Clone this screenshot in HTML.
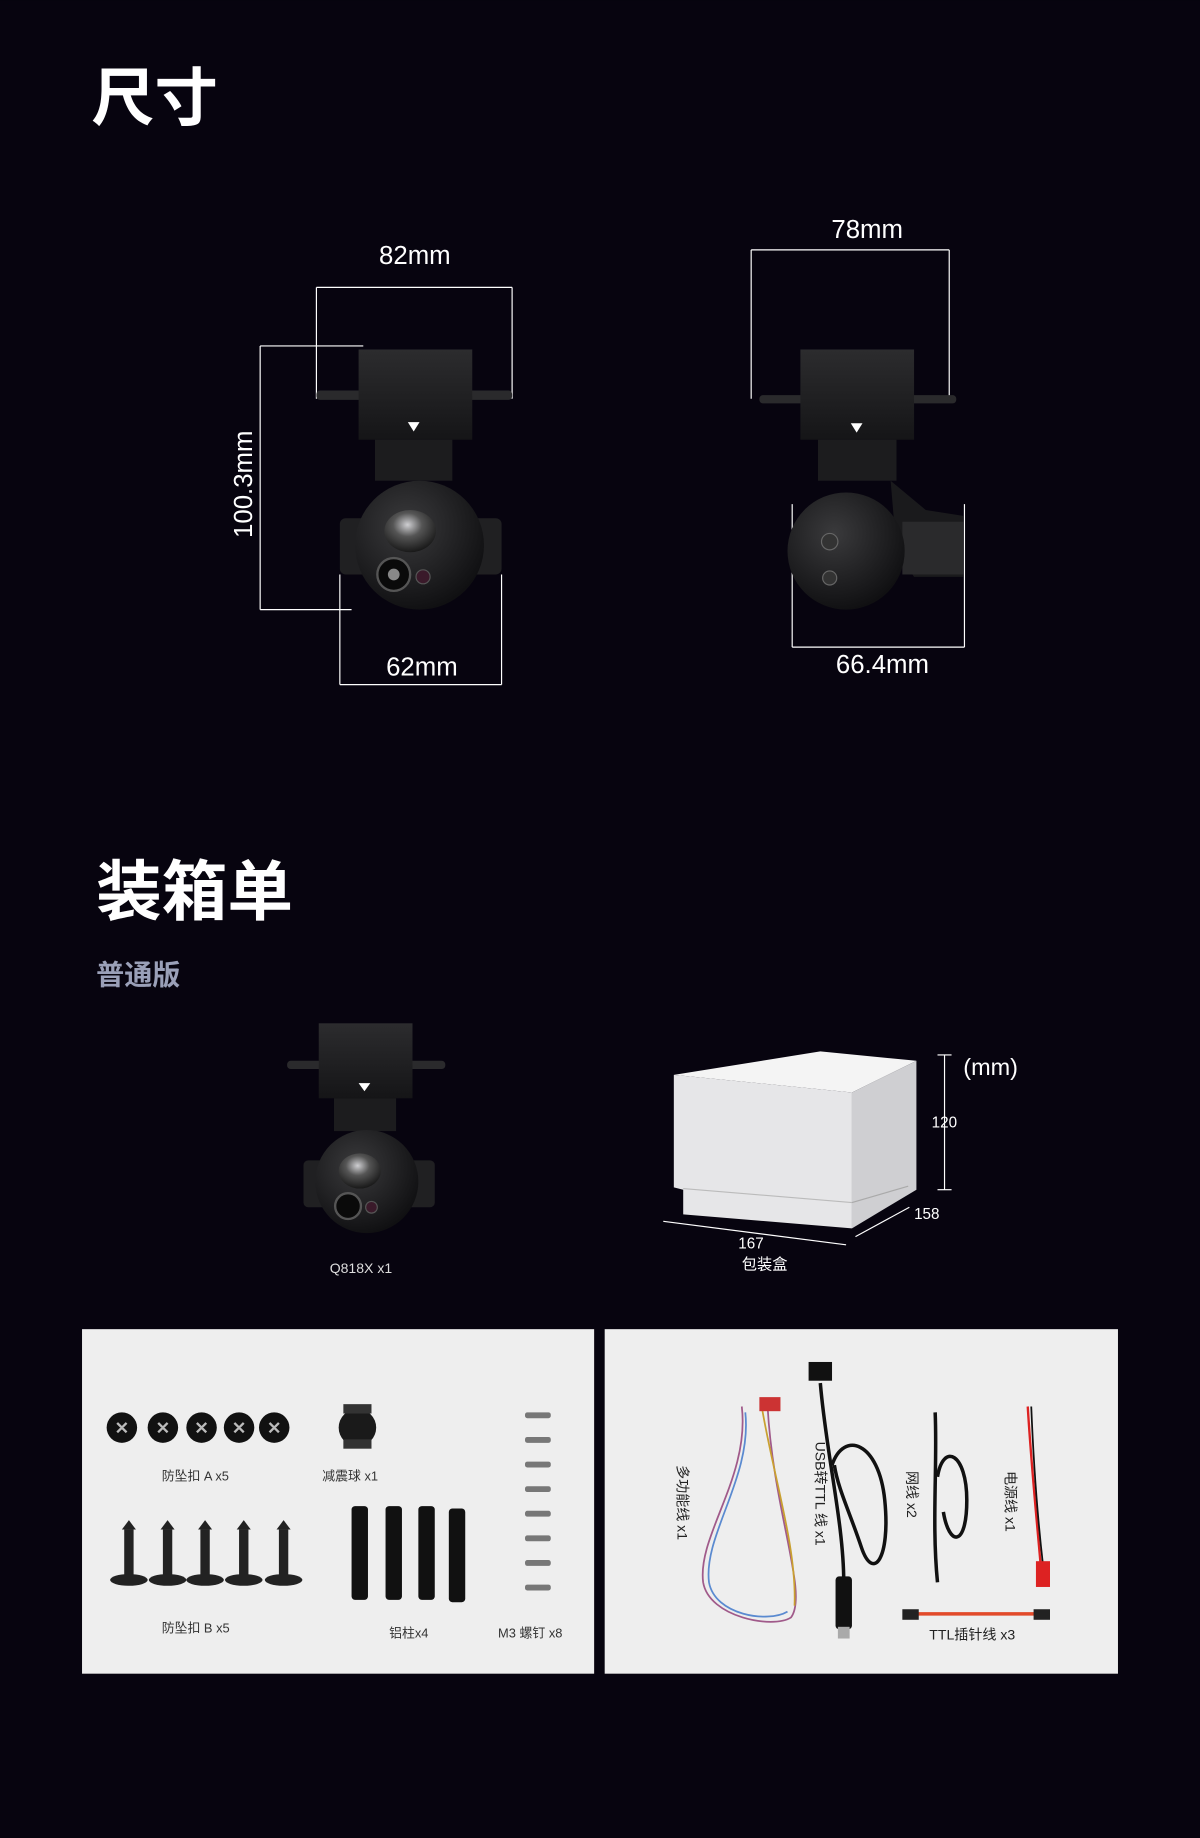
<!DOCTYPE html>
<html><head><meta charset="utf-8"><style>
html,body{margin:0;padding:0;background:#07040f;}
svg{display:block;}
text{font-family:"Liberation Sans","Noto Sans CJK SC",sans-serif;}
</style></head><body>
<svg width="1200" height="1838" viewBox="0 0 1024 1568" xmlns="http://www.w3.org/2000/svg">
<rect width="1024" height="1568" fill="#07040f"/>
<defs>
<radialGradient id="ball" cx="0.4" cy="0.35" r="0.7"><stop offset="0" stop-color="#3a3a3c"/><stop offset="1" stop-color="#0e0e10"/></radialGradient>
<radialGradient id="lens" cx="0.45" cy="0.35" r="0.7"><stop offset="0" stop-color="#cfcfd2"/><stop offset="0.4" stop-color="#555"/><stop offset="1" stop-color="#111"/></radialGradient>
<linearGradient id="boxg" x1="0" y1="0" x2="0" y2="1"><stop offset="0" stop-color="#2c2c2e"/><stop offset="1" stop-color="#151517"/></linearGradient>
</defs>
<text x="78" y="102" font-size="54" font-weight="bold" fill="#fff">尺寸</text>
<text x="82" y="780" font-size="56" font-weight="bold" fill="#fff">装箱单</text>
<text x="82" y="840" font-size="24" font-weight="bold" fill="#9aa0b8">普通版</text>

<!-- camera 1 -->
<g stroke="#fff" stroke-width="1" fill="none">
<line x1="270" y1="245" x2="437" y2="245"/><line x1="270" y1="245" x2="270" y2="340"/><line x1="437" y1="245" x2="437" y2="340"/>
<line x1="222" y1="295" x2="222" y2="520"/><line x1="222" y1="295" x2="310" y2="295"/><line x1="222" y1="520" x2="300" y2="520"/>
<line x1="290" y1="584" x2="428" y2="584"/><line x1="290" y1="490" x2="290" y2="584"/><line x1="428" y1="490" x2="428" y2="584"/>
</g>
<text x="354" y="225" font-size="22" fill="#fff" text-anchor="middle">82mm</text>
<text x="360" y="576" font-size="22" fill="#fff" text-anchor="middle">62mm</text>
<text transform="translate(215,413) rotate(-90)" font-size="22" fill="#fff" text-anchor="middle">100.3mm</text>
<g>
<rect x="270" y="333" width="167" height="8" rx="3" fill="#2a2a2c"/>
<rect x="306" y="298" width="97" height="77" fill="url(#boxg)"/>
<polygon points="348,360 358,360 353,368" fill="#fff"/>
<rect x="320" y="375" width="66" height="35" fill="#1c1c1e"/>
<rect x="290" y="442" width="30" height="48" rx="5" fill="#202022"/>
<rect x="398" y="442" width="30" height="48" rx="5" fill="#202022"/>
<circle cx="358" cy="465" r="55" fill="url(#ball)"/>
<ellipse cx="350" cy="453" rx="22" ry="18" fill="url(#lens)"/>
<circle cx="336" cy="490" r="14" fill="#0a0a0a" stroke="#555" stroke-width="2"/>
<circle cx="336" cy="490" r="5" fill="#888"/>
<circle cx="361" cy="492" r="6" fill="#3a1a2a" stroke="#555"/>
</g>

<!-- camera 2 -->
<g stroke="#fff" stroke-width="1" fill="none">
<line x1="641" y1="213" x2="810" y2="213"/><line x1="641" y1="213" x2="641" y2="340"/><line x1="810" y1="213" x2="810" y2="340"/>
<line x1="676" y1="552" x2="823" y2="552"/><line x1="676" y1="430" x2="676" y2="552"/><line x1="823" y1="430" x2="823" y2="552"/>
</g>
<text x="740" y="203" font-size="22" fill="#fff" text-anchor="middle">78mm</text>
<text x="753" y="574" font-size="22" fill="#fff" text-anchor="middle">66.4mm</text>
<g>
<rect x="648" y="337" width="168" height="7" rx="3" fill="#2a2a2c"/>
<rect x="683" y="298" width="97" height="77" fill="url(#boxg)"/>
<polygon points="726,361 736,361 731,369" fill="#fff"/>
<rect x="698" y="375" width="67" height="35" fill="#1c1c1e"/>
<polygon points="760,410 790,435 822,440 822,492 780,492 765,470" fill="#1a1a1c"/>
<rect x="770" y="445" width="52" height="45" fill="#2a2a2c"/>
<circle cx="722" cy="470" r="50" fill="url(#ball)"/>
<circle cx="708" cy="462" r="7" fill="#333" stroke="#666"/>
<circle cx="708" cy="493" r="6" fill="#333" stroke="#666"/>
</g>

<!-- camera 3 -->
<g>
<rect x="245" y="905" width="135" height="7" rx="3" fill="#2a2a2c"/>
<rect x="272" y="873" width="80" height="64" fill="url(#boxg)"/>
<polygon points="306,924 316,924 311,931" fill="#fff"/>
<rect x="285" y="937" width="53" height="28" fill="#1c1c1e"/>
<rect x="259" y="990" width="24" height="40" rx="4" fill="#202022"/>
<rect x="347" y="990" width="24" height="40" rx="4" fill="#202022"/>
<circle cx="313" cy="1008" r="44" fill="url(#ball)"/>
<ellipse cx="307" cy="999" rx="18" ry="15" fill="url(#lens)"/>
<circle cx="297" cy="1029" r="11" fill="#0a0a0a" stroke="#555" stroke-width="2"/>
<circle cx="317" cy="1030" r="5" fill="#3a1a2a" stroke="#555"/>
</g>
<text x="308" y="1086" font-size="12" fill="#ddd" text-anchor="middle">Q818X  x1</text>

<!-- package box -->
<polygon points="575,917 700,897 782,905 727,932" fill="#f4f4f4"/>
<polygon points="575,917 727,932 727,1048 583,1036 583,1015 575,1013" fill="#e6e6e8"/>
<polygon points="727,932 782,905 782,1015 727,1048" fill="#cfcfd2"/>
<line x1="583" y1="1014" x2="727" y2="1026" stroke="#bbb"/>
<line x1="727" y1="1026" x2="775" y2="1012" stroke="#aaa"/>
<g stroke="#fff" stroke-width="1">
<line x1="806" y1="900" x2="806" y2="1015"/><line x1="800" y1="900" x2="812" y2="900"/><line x1="800" y1="1015" x2="812" y2="1015"/>
<line x1="566" y1="1042" x2="722" y2="1062"/><line x1="730" y1="1055" x2="776" y2="1030"/>
</g>
<text x="822" y="917" font-size="20" fill="#fff">(mm)</text>
<text x="795" y="962" font-size="13" fill="#fff">120</text>
<text x="780" y="1040" font-size="13" fill="#fff">158</text>
<text x="630" y="1065" font-size="13" fill="#fff">167</text>
<text x="633" y="1083" font-size="13" fill="#fff">包装盒</text>

<!-- left panel -->
<rect x="70" y="1134" width="437" height="294" fill="#eeeeee"/>
<g>
<circle cx="104" cy="1218" r="13" fill="#111"/><circle cx="139" cy="1218" r="13" fill="#111"/><circle cx="172" cy="1218" r="13" fill="#111"/><circle cx="204" cy="1218" r="13" fill="#111"/><circle cx="234" cy="1218" r="13" fill="#111"/>
<g stroke="#bbb" stroke-width="2"><path d="M100,1214 l8,8 M108,1214 l-8,8 M135,1214 l8,8 M143,1214 l-8,8 M168,1214 l8,8 M176,1214 l-8,8 M200,1214 l8,8 M208,1214 l-8,8 M230,1214 l8,8 M238,1214 l-8,8"/></g>
</g>
<text x="138" y="1263" font-size="11" fill="#333">防坠扣 A  x5</text>
<circle cx="305" cy="1218" r="16" fill="#1a1a1a"/><rect x="293" y="1198" width="24" height="8" fill="#333"/><rect x="293" y="1228" width="24" height="8" fill="#333"/>
<text x="275" y="1263" font-size="11" fill="#333">减震球  x1</text>
<g fill="#777">
<rect x="448" y="1205" width="22" height="5" rx="2"/><rect x="448" y="1226" width="22" height="5" rx="2"/><rect x="448" y="1247" width="22" height="5" rx="2"/><rect x="448" y="1268" width="22" height="5" rx="2"/><rect x="448" y="1289" width="22" height="5" rx="2"/><rect x="448" y="1310" width="22" height="5" rx="2"/><rect x="448" y="1331" width="22" height="5" rx="2"/><rect x="448" y="1352" width="22" height="5" rx="2"/>
</g>
<text x="425" y="1397" font-size="11" fill="#333">M3 螺钉  x8</text>
<g fill="#222">
<rect x="106" y="1305" width="8" height="42"/><ellipse cx="110" cy="1348" rx="16" ry="5"/><polygon points="104,1305 110,1297 116,1305"/>
<rect x="139" y="1305" width="8" height="42"/><ellipse cx="143" cy="1348" rx="16" ry="5"/><polygon points="137,1305 143,1297 149,1305"/>
<rect x="171" y="1305" width="8" height="42"/><ellipse cx="175" cy="1348" rx="16" ry="5"/><polygon points="169,1305 175,1297 181,1305"/>
<rect x="204" y="1305" width="8" height="42"/><ellipse cx="208" cy="1348" rx="16" ry="5"/><polygon points="202,1305 208,1297 214,1305"/>
<rect x="238" y="1305" width="8" height="42"/><ellipse cx="242" cy="1348" rx="16" ry="5"/><polygon points="236,1305 242,1297 248,1305"/>
</g>
<text x="138" y="1393" font-size="11" fill="#333">防坠扣 B  x5</text>
<g fill="#111">
<rect x="300" y="1285" width="14" height="80" rx="3"/><rect x="329" y="1285" width="14" height="80" rx="3"/><rect x="357" y="1285" width="14" height="80" rx="3"/><rect x="383" y="1287" width="14" height="80" rx="3"/>
</g>
<text x="332" y="1397" font-size="11" fill="#333">铝柱x4</text>

<!-- right panel -->
<rect x="516" y="1134" width="438" height="294" fill="#eeeeee"/>
<g fill="none" stroke-width="1.5">
<path d="M633,1200 C640,1260 595,1310 600,1350 C605,1380 660,1390 675,1380 C690,1360 660,1290 655,1200" stroke="#a05a8a"/>
<path d="M636,1205 C642,1260 600,1310 605,1350 C610,1378 655,1385 672,1375" stroke="#5a8ad0"/>
<path d="M650,1200 C660,1260 680,1320 678,1370" stroke="#c9a030"/>
<path d="M700,1180 C705,1240 720,1300 720,1350" stroke="#111" stroke-width="3"/>
<path d="M710,1250 C720,1220 750,1230 755,1280 C760,1330 745,1350 735,1320 C725,1290 715,1270 712,1250" stroke="#111" stroke-width="3"/>
<path d="M798,1205 C800,1250 795,1300 800,1350" stroke="#111" stroke-width="3"/>
<path d="M800,1260 C805,1230 825,1240 825,1280 C825,1320 810,1320 805,1290" stroke="#111" stroke-width="3"/>
<path d="M877,1200 C880,1250 885,1300 888,1335" stroke="#d22" stroke-width="2"/>
<path d="M880,1200 C882,1250 886,1300 890,1335" stroke="#111" stroke-width="1.5"/>
<path d="M775,1377 L890,1377" stroke="#e24a2a" stroke-width="3"/>
</g>
<rect x="690" y="1162" width="20" height="16" fill="#111"/>
<rect x="713" y="1345" width="14" height="45" rx="3" fill="#111"/><rect x="715" y="1388" width="10" height="10" fill="#aaa"/>
<rect x="884" y="1332" width="12" height="22" fill="#d22"/>
<rect x="648" y="1192" width="18" height="12" fill="#c33"/>
<rect x="770" y="1373" width="14" height="9" fill="#222"/><rect x="882" y="1373" width="14" height="9" fill="#222"/>
<g font-size="12" fill="#222">
<text transform="translate(578,1250) rotate(90)">多功能线  x1</text>
<text transform="translate(696,1230) rotate(90)">USB转TTL 线 x1</text>
<text transform="translate(774,1255) rotate(90)">网线  x2</text>
<text transform="translate(858,1255) rotate(90)">电源线 x1</text>
<text x="793" y="1399">TTL插针线 x3</text>
</g>
</svg>
</body></html>
